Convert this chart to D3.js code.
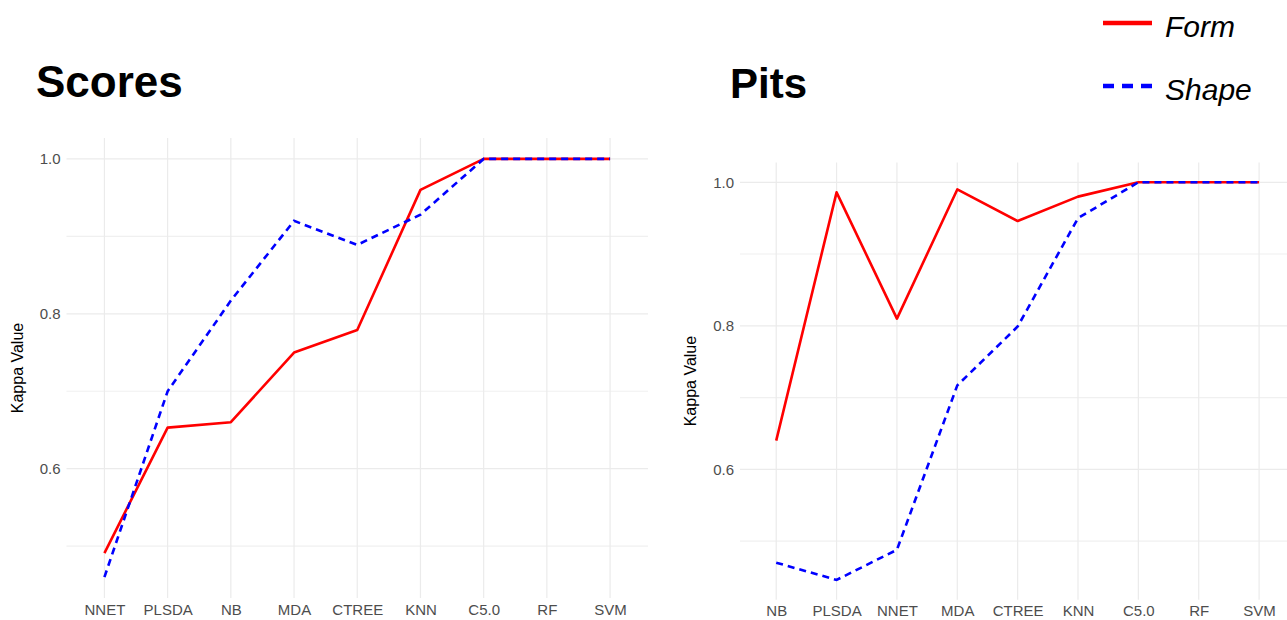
<!DOCTYPE html>
<html>
<head>
<meta charset="utf-8">
<script src="https://cdn.jsdelivr.net/npm/d3@7"></script>
<style>
  html, body { margin: 0; padding: 0; background: #fff; }
  svg { display: block; font-family: "Liberation Sans", Arial, sans-serif; }
</style>
</head>
<body>
<svg id="chart" width="1287" height="620"></svg>
<script>
// Kappa values per classifier, Scores panel
const scoresModels = ["NNET", "PLSDA", "NB", "MDA", "CTREE", "KNN", "C5.0", "RF", "SVM"];
const scoresForm   = [0.491, 0.653, 0.660, 0.750, 0.779, 0.960, 1.0, 1.0, 1.0];
const scoresShape  = [0.460, 0.700, 0.817, 0.920, 0.889, 0.928, 1.0, 1.0, 1.0];

// Kappa values per classifier, Pits panel
const pitsModels = ["NB", "PLSDA", "NNET", "MDA", "CTREE", "KNN", "C5.0", "RF", "SVM"];
const pitsForm   = [0.640, 0.986, 0.810, 0.990, 0.946, 0.980, 1.0, 1.0, 1.0];
const pitsShape  = [0.470, 0.446, 0.488, 0.717, 0.799, 0.950, 1.0, 1.0, 1.0];

const yTicks = [0.6, 0.8, 1.0];
const yMinor = [0.5, 0.7, 0.9];
const seriesNames = ["Form", "Shape"];
const seriesColors = ["#ff0000", "#0000ff"];

const svg = d3.select("#chart");

function panel(opts) {
  const { title, models, form, shape, x0, x1, yTop, yBottom, titleX, titleY, titleSize } = opts;
  const all = form.concat(shape);
  const lo = d3.min(all), hi = d3.max(all);
  const pad = (hi - lo) * 0.05;

  const x = d3.scalePoint().domain(models).range([x0, x1]).padding(0.6);
  const y = d3.scaleLinear().domain([lo - pad, hi + pad]).range([yBottom, yTop]);

  const g = svg.append("g");

  // minor grid
  g.selectAll("line.minor").data(yMinor.filter(v => v >= lo - pad && v <= hi + pad)).join("line")
    .attr("x1", x0).attr("x2", x1)
    .attr("y1", d => y(d)).attr("y2", d => y(d))
    .attr("stroke", "#f0f0f0").attr("stroke-width", 1.1);

  // major grid
  g.selectAll("line.hmajor").data(yTicks).join("line")
    .attr("x1", x0).attr("x2", x1)
    .attr("y1", d => y(d)).attr("y2", d => y(d))
    .attr("stroke", "#ebebeb").attr("stroke-width", 1.2);

  g.selectAll("line.vmajor").data(models).join("line")
    .attr("x1", d => x(d)).attr("x2", d => x(d))
    .attr("y1", yTop).attr("y2", yBottom)
    .attr("stroke", "#ebebeb").attr("stroke-width", 1.2);

  // y axis labels
  const yAxis = d3.axisLeft(y).tickValues(yTicks).tickFormat(d3.format(".1f")).tickSize(0).tickPadding(6);
  const ya = g.append("g").attr("transform", `translate(${x0},0)`).call(yAxis);
  ya.select(".domain").remove();
  ya.selectAll("text").attr("fill", "#4d4d4d").style("font-size", "15px")
    .style("font-family", "'Liberation Sans', Arial, sans-serif");

  // x axis labels
  const xAxis = d3.axisBottom(x).tickSize(0).tickPadding(6);
  const xa = g.append("g").attr("transform", `translate(0,${yBottom})`).call(xAxis);
  xa.select(".domain").remove();
  xa.selectAll("text").attr("fill", "#4d4d4d").style("font-size", "15px")
    .style("font-family", "'Liberation Sans', Arial, sans-serif");

  // axis title
  g.append("text")
    .attr("transform", `translate(${x0 - 48},${(yTop + yBottom) / 2}) rotate(-90)`)
    .attr("text-anchor", "middle")
    .attr("dominant-baseline", "middle")
    .style("font-size", "16px")
    .attr("fill", "#000")
    .text("Kappa Value");

  // plot title
  g.append("text")
    .attr("x", titleX).attr("y", titleY)
    .style("font-size", titleSize + "px").style("font-weight", "bold")
    .attr("fill", "#000")
    .text(title);

  const line = d3.line().x((d, i) => x(models[i])).y(d => y(d));

  g.append("path").datum(form)
    .attr("d", line).attr("fill", "none")
    .attr("stroke", seriesColors[0]).attr("stroke-width", 2.6)
    .attr("stroke-linejoin", "round");

  g.append("path").datum(shape)
    .attr("d", line).attr("fill", "none")
    .attr("stroke", seriesColors[1]).attr("stroke-width", 2.6)
    .attr("stroke-dasharray", "7,5");
}

panel({ title: "Scores", models: scoresModels, form: scoresForm, shape: scoresShape,
        x0: 66.5, x1: 648, yTop: 138, yBottom: 598, titleX: 36, titleY: 97, titleSize: 44 });

panel({ title: "Pits", models: pitsModels, form: pitsForm, shape: pitsShape,
        x0: 740, x1: 1295.3, yTop: 162.4, yBottom: 599.8, titleX: 730, titleY: 98, titleSize: 42 });

// legend
const legend = svg.append("g");
const legendY = [23, 86];
seriesNames.forEach((name, i) => {
  legend.append("line")
    .attr("x1", 1103).attr("x2", 1152)
    .attr("y1", legendY[i]).attr("y2", legendY[i])
    .attr("stroke", seriesColors[i]).attr("stroke-width", 4.3)
    .attr("stroke-dasharray", i === 1 ? "11,8" : null);
  legend.append("text")
    .attr("x", 1165).attr("y", legendY[i] + 14)
    .style("font-size", "30px").style("font-style", "italic")
    .attr("fill", "#000")
    .text(name);
});
</script>
</body>
</html>
